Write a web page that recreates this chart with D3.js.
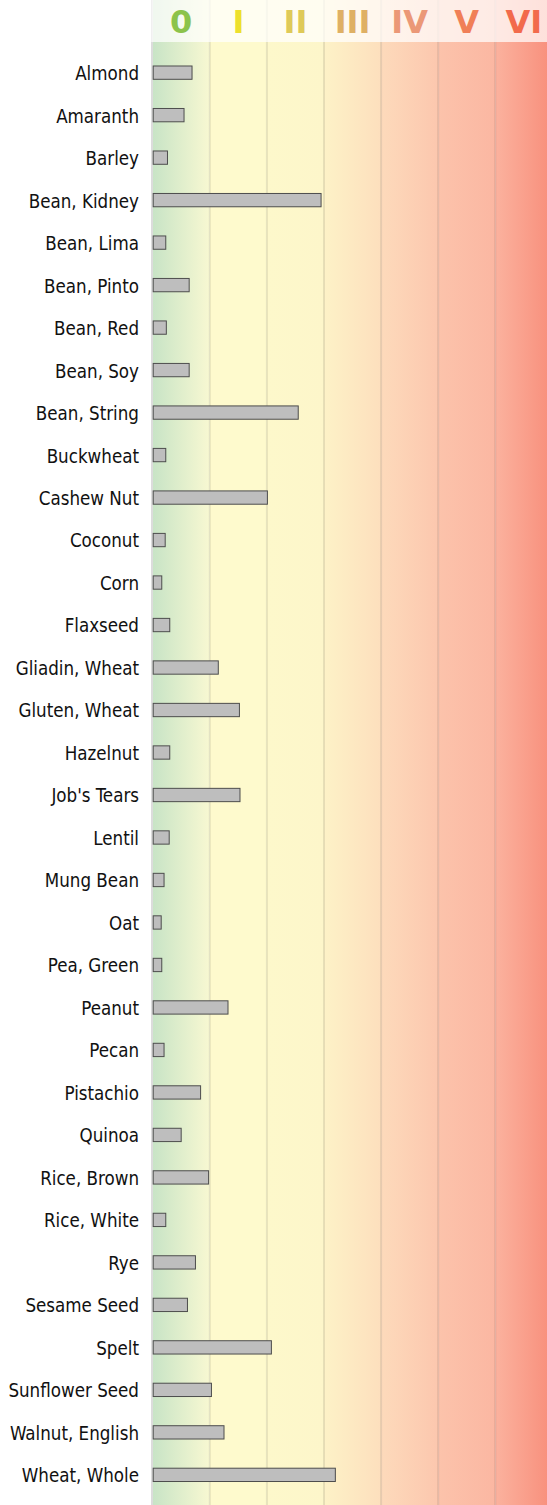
<!DOCTYPE html>
<html>
<head>
<meta charset="utf-8">
<script src="https://cdn.jsdelivr.net/npm/d3@7"></script>
<style>
  html, body { margin: 0; padding: 0; background: #fff; }
  body { width: 547px; height: 1505px; overflow: hidden; }
  .food-label {
    font-family: "DejaVu Sans Condensed", "DejaVu Sans", sans-serif;
    font-stretch: condensed;
    font-size: 18.6px;
    fill: #111;
  }
  .class-label { font-family: "DejaVu Sans", sans-serif; font-size: 32px; font-weight: bold; }
</style>
</head>
<body>
<div id="chart"></div>
<script>
const width = 547;
const height = 1505;

// foods, top to bottom
const foods = [
  "Almond", "Amaranth", "Barley", "Bean, Kidney", "Bean, Lima", "Bean, Pinto",
  "Bean, Red", "Bean, Soy", "Bean, String", "Buckwheat", "Cashew Nut", "Coconut",
  "Corn", "Flaxseed", "Gliadin, Wheat", "Gluten, Wheat", "Hazelnut", "Job's Tears",
  "Lentil", "Mung Bean", "Oat", "Pea, Green", "Peanut", "Pecan", "Pistachio",
  "Quinoa", "Rice, Brown", "Rice, White", "Rye", "Sesame Seed", "Spelt",
  "Sunflower Seed", "Walnut, English", "Wheat, Whole"
];

// reaction score in class units (0 .. 7)
const scores = [
  0.68, 0.54, 0.25, 2.94, 0.22, 0.63,
  0.23, 0.63, 2.54, 0.22, 2.0, 0.21,
  0.15, 0.29, 1.14, 1.51, 0.29, 1.52,
  0.28, 0.19, 0.14, 0.15, 1.31, 0.19, 0.83,
  0.49, 0.97, 0.22, 0.74, 0.6, 2.07,
  1.02, 1.24, 3.19
];

const classLabels = ["0", "I", "II", "III", "IV", "V", "VI"];
const classColors = ["#8cc34b", "#ede02c", "#dfca58", "#dfb064", "#eb9877", "#f07f57", "#f26a4c"];

// background gradient per class column: [left, right]
const classFills = [
  ["#c8e4c6", "#f8f8d2"],
  ["#fefacd", "#fefacd"],
  ["#fdf8cb", "#fdf6ca"],
  ["#fdf2c7", "#fddfbd"],
  ["#fddabb", "#fcc7ae"],
  ["#fcc3ab", "#fbb7a2"],
  ["#fbb29e", "#f88e7b"]
];

const headerHeight = 42;

const svg = d3
  .select("#chart")
  .append("svg")
  .attr("width", width)
  .attr("height", height)
  .attr("viewBox", `0 0 ${width} ${height}`);

const x = d3.scaleLinear().domain([0, 7]).range([152.7, 552.4]);

const y = d3
  .scaleBand()
  .domain(foods)
  .range([51.4, 1496.1])
  .paddingInner(0.687)
  .paddingOuter(0.3435);

const defs = svg.append("defs");

classFills.forEach((c, i) => {
  const grad = defs
    .append("linearGradient")
    .attr("id", `class-grad-${i}`)
    .attr("x1", "0%")
    .attr("x2", "100%");
  grad.append("stop").attr("offset", "0%").attr("stop-color", c[0]);
  grad.append("stop").attr("offset", "100%").attr("stop-color", c[1]);
});

// class columns
svg
  .append("g")
  .selectAll("rect")
  .data(classLabels)
  .join("rect")
  .attr("x", (d, i) => x(i))
  .attr("y", 0)
  .attr("width", (d, i) => x(i + 1) - x(i))
  .attr("height", height)
  .attr("fill", (d, i) => `url(#class-grad-${i})`);

// left edge
svg
  .append("line")
  .attr("x1", x(0) - 0.7)
  .attr("x2", x(0) - 0.7)
  .attr("y1", 0)
  .attr("y2", height)
  .attr("stroke", "#dcdcdc")
  .attr("stroke-width", 2);

// class boundaries
svg
  .append("g")
  .selectAll("line")
  .data(d3.range(1, 7))
  .join("line")
  .attr("x1", (d) => x(d))
  .attr("x2", (d) => x(d))
  .attr("y1", 0)
  .attr("y2", height)
  .attr("stroke", "#000")
  .attr("stroke-opacity", 0.09)
  .attr("stroke-width", 2);

// header band
svg
  .append("rect")
  .attr("x", x(0) - 1.5)
  .attr("y", 0)
  .attr("width", width)
  .attr("height", headerHeight)
  .attr("fill", "#fff")
  .attr("fill-opacity", 0.72);

svg
  .append("g")
  .selectAll("text")
  .data(classLabels)
  .join("text")
  .attr("class", "class-label")
  .attr("x", (d, i) => (x(i) + x(i + 1)) / 2)
  .attr("y", 33)
  .attr("text-anchor", "middle")
  .attr("fill", (d, i) => classColors[i])
  .text((d) => d);

// bars
svg
  .append("g")
  .selectAll("rect")
  .data(foods)
  .join("rect")
  .attr("x", x(0) + 0.5)
  .attr("y", (d) => y(d))
  .attr("width", (d, i) => x(scores[i]) - x(0))
  .attr("height", y.bandwidth())
  .attr("fill", "#bebebe")
  .attr("stroke", "#4d4d4d")
  .attr("stroke-width", 1);

// food labels
svg
  .append("g")
  .selectAll("text")
  .data(foods)
  .join("text")
  .attr("class", "food-label")
  .attr("x", 139)
  .attr("y", (d) => y(d) + y.bandwidth() / 2)
  .attr("dy", "0.4em")
  .attr("text-anchor", "end")
  .text((d) => d);
</script>
</body>
</html>
